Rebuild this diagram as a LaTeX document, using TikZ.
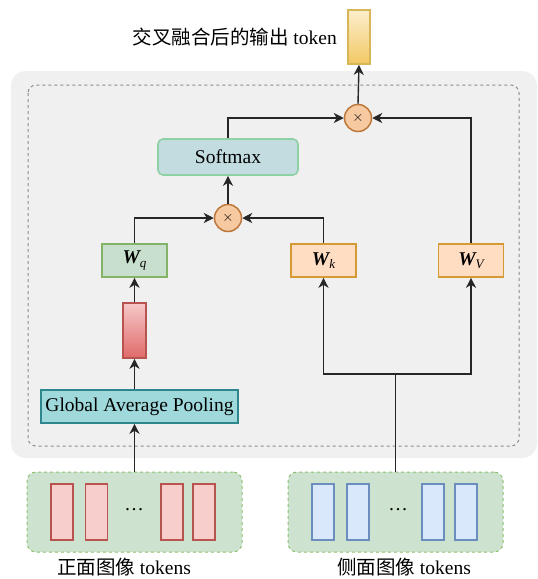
\documentclass[tikz,border=0pt]{standalone}
\usepackage{fontspec}
\setmainfont{Liberation Serif}
\newfontfamily\cjk{Noto Sans CJK SC}
\usetikzlibrary{arrows.meta,positioning}

\definecolor{bggray}{HTML}{F0F0F0}
\definecolor{dashgray}{HTML}{8A8A8A}
\definecolor{softfill}{HTML}{C2DCE0}
\definecolor{softline}{HTML}{8DD1A4}
\definecolor{mulfill}{HTML}{F6C9A0}
\definecolor{mulline}{HTML}{BD773A}
\definecolor{qfill}{HTML}{C9DFCD}
\definecolor{qline}{HTML}{82B366}
\definecolor{kfill}{HTML}{FFDDC3}
\definecolor{kline}{HTML}{D69A35}
\definecolor{gapfill}{HTML}{A0D9DC}
\definecolor{gapline}{HTML}{2E878C}
\definecolor{grpfill}{HTML}{CDE3D0}
\definecolor{grpline}{HTML}{8DC071}
\definecolor{redfill}{HTML}{F8CECC}
\definecolor{redtop}{HTML}{F6C8C8}
\definecolor{redbot}{HTML}{E06A6A}
\definecolor{redline}{HTML}{B85450}
\definecolor{bluefill}{HTML}{DAE8FC}
\definecolor{blueline}{HTML}{6C8EBF}
\definecolor{outtop}{HTML}{FCEECB}
\definecolor{outbot}{HTML}{F2C864}
\definecolor{outline}{HTML}{D6B656}

\newcommand{\wmat}[1]{{\bfseries\itshape W}\raisebox{-0.4ex}{\fontsize{13}{13}\selectfont\itshape #1}}

\begin{document}
\begin{tikzpicture}[x=1pt,y=-1pt,
	txt/.style={font=\fontsize{19.5}{22}\selectfont},
	arr/.style={-{Stealth[length=10pt,width=10pt,inset=3pt]},line width=1.4pt,draw=black!85},
	wbox/.style={draw,line width=1.6pt,minimum width=65pt,minimum height=33pt,inner sep=0pt,txt},
	mul/.style={circle,draw=mulline,fill=mulfill,line width=1.5pt,minimum size=27pt,inner sep=0pt,font=\fontsize{14}{14}\selectfont},
	tok/.style={draw,line width=1.6pt,minimum width=22pt,minimum height=56pt,inner sep=0pt},
	grp/.style={draw=grpline,fill=grpfill,dashed,line width=1pt,rounded corners=9pt,minimum width=215pt,minimum height=80pt}]

	\useasboundingbox (0,0) rectangle (538,579);

	% background panels
	\fill[bggray,rounded corners=15pt] (11,71) rectangle (537,458);
	\draw[dashgray,dashed,line width=1pt,rounded corners=8pt] (28,85) rectangle (519,446);

	% output token
	\node[draw=outline,line width=1.6pt,top color=outtop,bottom color=outbot,minimum width=22pt,minimum height=54pt,inner sep=0pt] (out) at (359,37) {};
	\node[txt,anchor=east,inner sep=0pt] (outlbl) at (337,37) {{\cjk 交叉融合后的输出} token};

	% attention part
	\node[mul] (mulB) at (358,118) {$\times$};
	\node[draw=softline,fill=softfill,line width=1.6pt,rounded corners=5pt,minimum width=140pt,minimum height=36pt,txt] (soft) at (228,157) {Softmax};
	\node[mul] (mulA) at (228,218) {$\times$};

	\node[wbox,draw=qline,fill=qfill] (wq) at (134.5,260.5) {\wmat{q}};
	\node[wbox,draw=kline,fill=kfill] (wk) at (323.5,260.5) {\wmat{k}};
	\node[wbox,draw=kline,fill=kfill] (wv) at (471,260.5) {\wmat{V}};

	\node[draw=redline,line width=1.6pt,top color=redtop,bottom color=redbot,minimum width=23pt,minimum height=55pt,inner sep=0pt] (bar) at (134.5,330.5) {};
	\node[draw=gapline,fill=gapfill,line width=1.6pt,minimum width=197pt,minimum height=33pt,inner sep=0pt,txt] (gap) at (139.5,406.5) {Global Average Pooling};

	% token groups
	\node[grp] (front) at (134.5,512) {};
	\node[grp] (side) at (395.5,512) {};

	\node[tok,draw=redline,fill=redfill] (f1) at (62,512) {};
	\node[tok,draw=redline,fill=redfill] (f2) at (96.5,512) {};
	\node[txt,inner sep=0pt] (fdots) at (134,510) {\ldots};
	\node[tok,draw=redline,fill=redfill] (f3) at (172,512) {};
	\node[tok,draw=redline,fill=redfill] (f4) at (204,512) {};

	\node[tok,draw=blueline,fill=bluefill] (s1) at (323,512) {};
	\node[tok,draw=blueline,fill=bluefill] (s2) at (358,512) {};
	\node[txt,inner sep=0pt] (sdots) at (398,510) {\ldots};
	\node[tok,draw=blueline,fill=bluefill] (s3) at (433,512) {};
	\node[tok,draw=blueline,fill=bluefill] (s4) at (466,512) {};

	\node[txt,inner sep=0pt] (frontlbl) at (124,567) {{\cjk 正面图像} tokens};
	\node[txt,inner sep=0pt] (sidelbl) at (404,567) {{\cjk 侧面图像} tokens};

	% connectors
	\coordinate (split) at (395.5,374);
	\draw[arr] (front.north) -- (front.north |- gap.south);
	\draw[arr] (bar.south |- gap.north) -- (bar.south);
	\draw[arr] (bar.north) -- (wq.south);
	\draw[line width=1.4pt,black!85] (side.north) -- (split);
	\draw[arr] (split) -| (wk.south);
	\draw[arr] (split) -| (wv.south);
	\draw[arr] (wq.north) |- (mulA.west);
	\draw[arr] (wk.north) |- (mulA.east);
	\draw[arr] (mulA.north) -- (soft.south);
	\draw[arr] (soft.north) |- (mulB.west);
	\draw[arr] (wv.north) |- (mulB.east);
	\draw[arr] (mulB.north) -- (out.south);

\end{tikzpicture}
\end{document}
